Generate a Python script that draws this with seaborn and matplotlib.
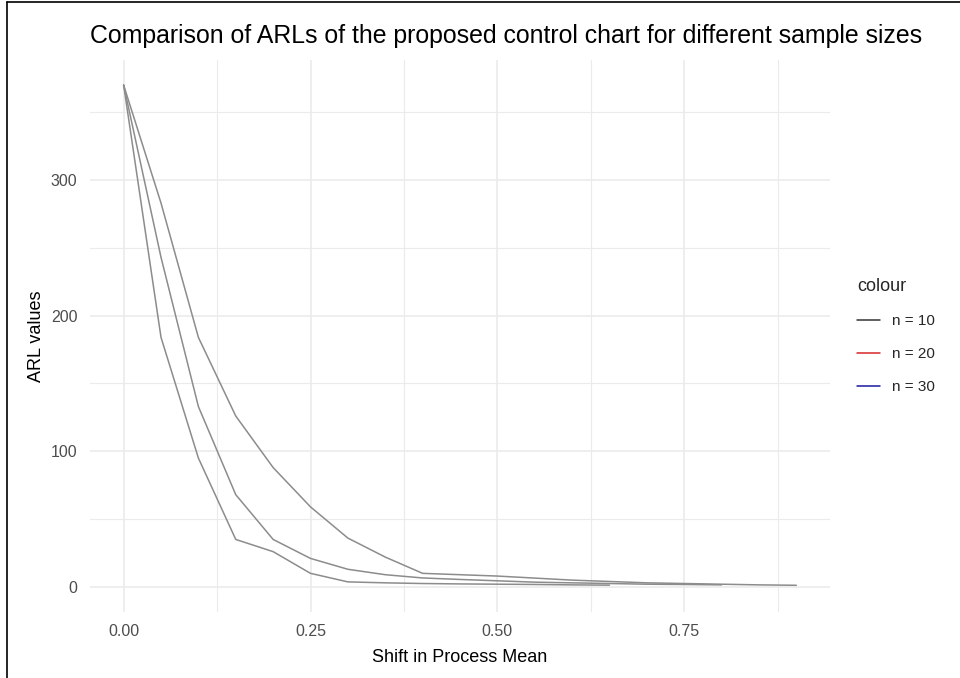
import numpy as np
import pandas as pd
import matplotlib
matplotlib.use("Agg")
import matplotlib.pyplot as plt
from matplotlib.lines import Line2D
from matplotlib.ticker import MultipleLocator
import seaborn as sns

# ===========================
# Data
# ===========================
shift = [0.00, 0.05, 0.10, 0.15, 0.20, 0.25, 0.30, 0.35, 0.40, 0.45,
         0.50, 0.55, 0.60, 0.65, 0.70, 0.75, 0.80, 0.85, 0.90]
arl_n10 = [370, 283, 184, 126, 88, 59, 36, 22, 10, 9.0,
           8.0, 6.5, 5.0, 4.0, 3.0, 2.5, 2.0, 1.5, 1.2]
arl_n20 = [370, 243, 133, 68, 35, 21, 13, 9.0, 6.6, 5.5,
           4.5, 3.5, 3.0, 2.5, 2.0, 1.8, 1.5]
arl_n30 = [370, 184, 95, 35, 26, 10, 3.7, 3.0, 2.5, 2.2,
           2.0, 1.8, 1.5, 1.3]
labels = ["n = 10", "n = 20", "n = 30"]
legend_colors = ["#333333", "#d62728", "#1a1a9c"]

frames = []
for lab, vals in zip(labels, [arl_n10, arl_n20, arl_n30]):
    frames.append(pd.DataFrame({"shift": shift[:len(vals)], "arl": vals, "n": lab}))
df = pd.concat(frames, ignore_index=True)

# ===========================
# Plot
# ===========================
sns.set_theme(style="white")
plt.rcParams["font.family"] = ["Liberation Sans", "DejaVu Sans"]

fig = plt.figure(figsize=(9.6, 6.78), dpi=100)
ax = fig.add_axes([90 / 960, 1 - 612 / 678, (830 - 90) / 960, (612 - 60) / 678])

sns.lineplot(data=df, x="shift", y="arl", hue="n", palette=["#8c8c8c"] * 3,
             linewidth=1.1, legend=False, ax=ax, estimator=None, sort=False)

ax.set_xlim(-0.045, 0.945)
ax.set_ylim(-18.5, 388.5)
ax.xaxis.set_major_locator(MultipleLocator(0.25))
ax.xaxis.set_minor_locator(MultipleLocator(0.125))
ax.yaxis.set_major_locator(MultipleLocator(100))
ax.yaxis.set_minor_locator(MultipleLocator(50))
ax.set_xticks([0, 0.25, 0.5, 0.75])
ax.set_xticklabels(["0.00", "0.25", "0.50", "0.75"])
ax.grid(which="major", color="#ebebeb", linewidth=1.2)
ax.grid(which="minor", color="#ebebeb", linewidth=0.8)
ax.set_axisbelow(True)
for s in ax.spines.values():
    s.set_visible(False)
ax.tick_params(which="both", length=0, labelsize=11.5, labelcolor="#4d4d4d", pad=9)

ax.set_xlabel("Shift in Process Mean", fontsize=13, color="black", labelpad=7)
ax.set_ylabel("ARL values", fontsize=13, color="black", labelpad=4)
ax.set_title("Comparison of ARLs of the proposed control chart for different sample sizes",
             loc="left", fontsize=17.9, color="black", pad=12)

handles = [Line2D([0], [0], color=c, linewidth=1.1) for c in legend_colors]
leg = fig.legend(handles, labels, title="colour", loc="center left",
                 bbox_to_anchor=(843 / 960, 1 - 336 / 678), frameon=False,
                 fontsize=11, title_fontsize=13, handlelength=1.5,
                 labelspacing=1.25, alignment="left")

# screenshot border on left and top
fig.add_artist(Line2D([7 / 960, 7 / 960], [0, 1 - 2 / 678], color="black", linewidth=1.2))
fig.add_artist(Line2D([7 / 960, 1], [1 - 2 / 678, 1 - 2 / 678], color="black", linewidth=1.2))

fig.savefig("out.png", dpi=100)
